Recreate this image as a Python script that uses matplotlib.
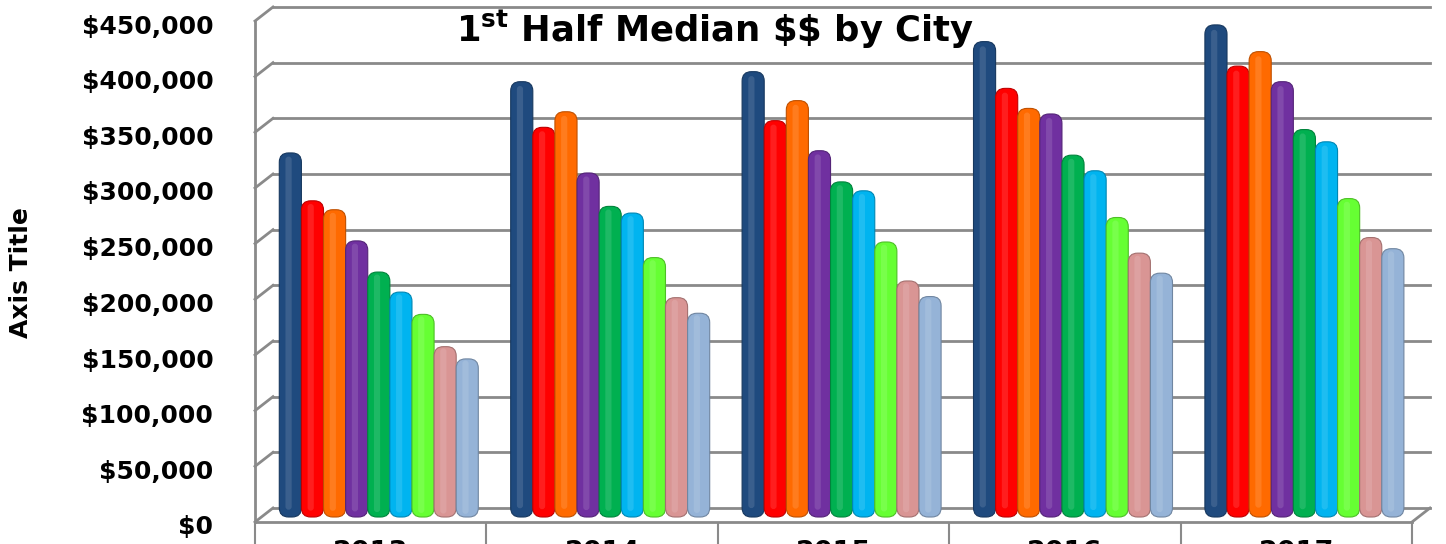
import numpy as np
import matplotlib
matplotlib.use("Agg")
import matplotlib.pyplot as plt
import matplotlib.colors as mcolors
from matplotlib.patches import FancyBboxPatch
from matplotlib.transforms import ScaledTranslation
from matplotlib.ticker import FuncFormatter

# data (median price, first half of each year)
years = ["2013", "2014", "2015", "2016", "2017"]
cities = ["City 1", "City 2", "City 3", "City 4", "City 5",
          "City 6", "City 7", "City 8", "City 9"]
city1 = [327000, 391000, 400000, 427000, 442000]
city2 = [284000, 350000, 356000, 385000, 405000]
city3 = [276000, 364000, 374000, 367000, 418000]
city4 = [248000, 309000, 329000, 362000, 391000]
city5 = [220000, 279000, 301000, 325000, 348000]
city6 = [202000, 273000, 293000, 311000, 337000]
city7 = [182000, 233000, 247000, 269000, 286000]
city8 = [153000, 197000, 212000, 237000, 251000]
city9 = [142000, 183000, 198000, 219000, 241000]
series = [city1, city2, city3, city4, city5, city6, city7, city8, city9]
colors = ["#1f4a7e", "#ff0000", "#ff6a00", "#7030a0", "#00b050",
          "#00b4f0", "#66ff33", "#d99594", "#95b3d7"]
yticks = np.arange(0, 450001, 50000)

plt.rcParams["font.family"] = "DejaVu Sans"
plt.rcParams["font.weight"] = "bold"

W, H = 1446, 544
fig = plt.figure(figsize=(W / 100, H / 100), dpi=100, facecolor="white")
ax = fig.add_axes([255 / W, 1 - 522 / H, (1412 - 255) / W, (522 - 21) / H])
ax.set_xlim(-0.5, len(years) - 0.5)
ax.set_ylim(0, 450000)
ax.patch.set_alpha(0)

grid_c = "#8a8a8a"
# back wall offset (pseudo 3-D depth)
back = ScaledTranslation(18 / 100, 14 / 100, fig.dpi_scale_trans)
ytrans = ax.get_yaxis_transform()
to_axes = ax.transAxes.inverted()
for v in yticks:
    ax.plot([0, 1], [v, v], color=grid_c, lw=2, transform=ytrans + back,
            clip_on=False, zorder=1)
    p0 = to_axes.transform(ytrans.transform((0, v)))
    p1 = to_axes.transform((ytrans + back).transform((0, v)))
    ax.plot([p0[0], p1[0]], [p0[1], p1[1]], color=grid_c, lw=2,
            transform=ax.transAxes, clip_on=False, zorder=1)
# right edge of the floor
p0 = to_axes.transform(ytrans.transform((1, 0)))
p1 = to_axes.transform((ytrans + back).transform((1, 0)))
ax.plot([p0[0], p1[0]], [p0[1], p1[1]], color=grid_c, lw=2,
        transform=ax.transAxes, clip_on=False, zorder=1)

# cylinder-ish bars
n = len(series)
group_w = 0.86
bw = group_w / n
shift = 0.035
x = np.arange(len(years))
asp = (ax.bbox.width / len(years)) / (ax.bbox.height / 450000)
bar_off = ax.transData + ScaledTranslation(0, 5 / 100, fig.dpi_scale_trans)
for j, (vals, c) in enumerate(zip(series, colors)):
    xs = x + shift + (j - (n - 1) / 2) * bw
    bars = ax.bar(xs, vals, bw, color=c, label=cities[j])
    dark = tuple(np.array(mcolors.to_rgb(c)) * 0.75)
    for r in bars:
        r.set_visible(False)
        x0, y0 = r.get_xy()
        w, h = r.get_width(), r.get_height()
        body = FancyBboxPatch((x0, y0), w, h,
                              boxstyle="round,pad=0,rounding_size=%f" % (w * 0.42),
                              mutation_aspect=asp, fc=c, ec=dark, lw=0.8,
                              transform=bar_off, zorder=3)
        ax.add_patch(body)
        hl = FancyBboxPatch((x0 + w * 0.28, y0 + 0.02 * h), w * 0.28, h * 0.97,
                            boxstyle="round,pad=0,rounding_size=%f" % (w * 0.14),
                            mutation_aspect=asp, fc="white", ec="none",
                            alpha=0.12, transform=bar_off, zorder=4)
        ax.add_patch(hl)

for s in ["top", "right"]:
    ax.spines[s].set_visible(False)
ax.spines["left"].set_color(grid_c)
ax.spines["left"].set_linewidth(2)
ax.spines["bottom"].set_color(grid_c)
ax.spines["bottom"].set_linewidth(2)

ax.set_yticks(yticks)
ax.yaxis.set_major_formatter(FuncFormatter(lambda v, p: "${:,.0f}".format(v)))
ax.tick_params(axis="y", length=0, pad=30, labelsize=18)
for lab in ax.get_yticklabels():
    lab.set_transform(lab.get_transform()
                      + ScaledTranslation(0, -3 / 100, fig.dpi_scale_trans))

# category separators + year labels
ax.set_xticks(np.arange(-0.5, len(years)))
ax.set_xticklabels([])
ax.tick_params(axis="x", which="major", length=30, width=1.5, color=grid_c)
ax.set_xticks(x, minor=True)
ax.set_xticklabels(years, minor=True, fontsize=19.5, fontweight="bold")
ax.tick_params(axis="x", which="minor", length=0, pad=13)

fig.text(21 / W, 1 - 273 / H, "Axis Title", rotation=90, fontsize=18,
         fontweight="bold", ha="center", va="center")
fig.text(715 / W, 1 - 42 / H, r"1$^{\mathbf{st}}$ Half Median \$\$ by City",
         fontsize=25.5, fontweight="bold", ha="center", va="baseline")

fig.savefig("out.png", dpi=100, facecolor="white")
